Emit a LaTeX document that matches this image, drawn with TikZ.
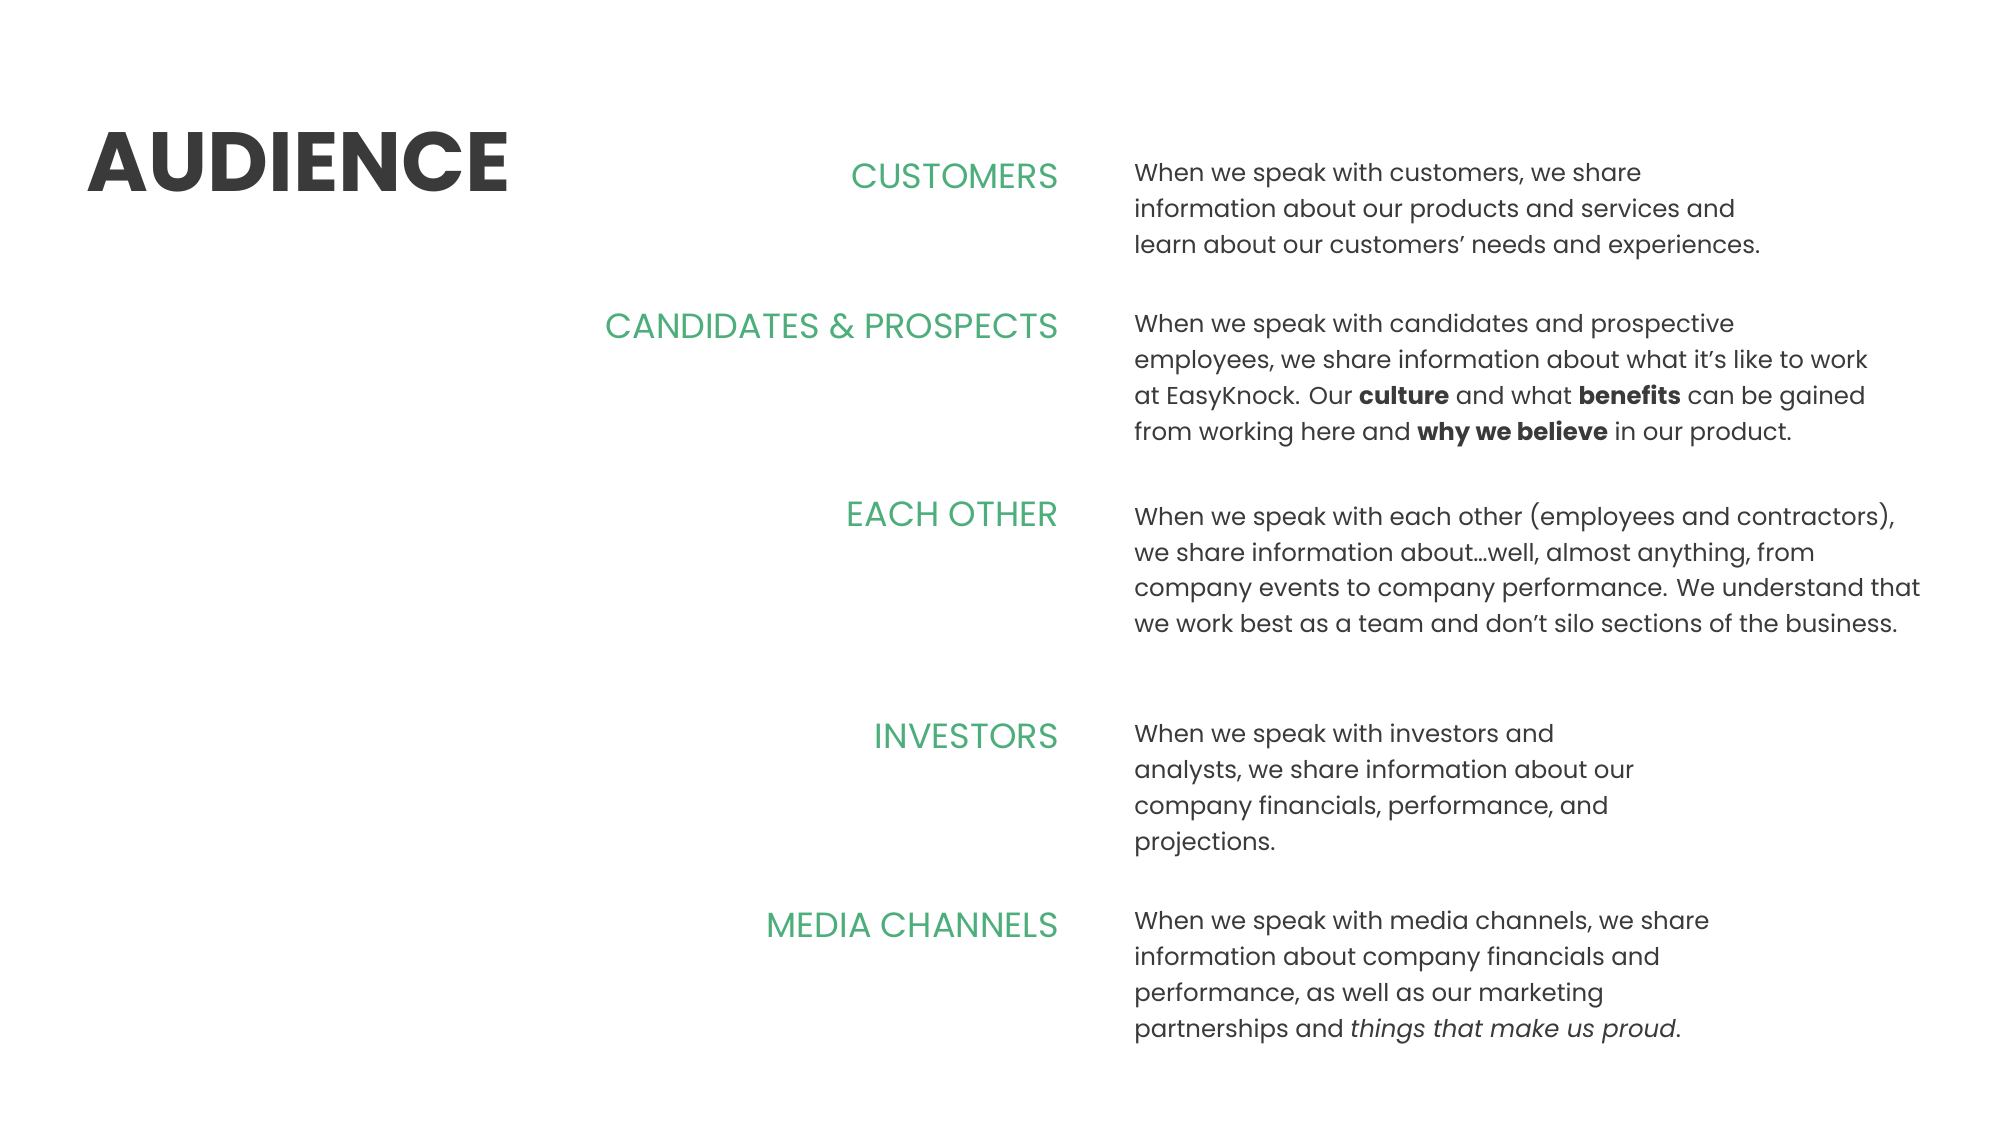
\documentclass[tikz,border=0pt]{standalone}
\usepackage{fontspec}
\setmainfont{Poppins}
\definecolor{grn}{HTML}{4DAE7C}
\definecolor{dk}{HTML}{3A3A3A}
\begin{document}
\begin{tikzpicture}[x=0.5pt,y=-0.5pt,
  lab/.style={anchor=base east,inner sep=0,text=grn,font=\fontsize{17.5}{20}\selectfont},
  body/.style={anchor=north west,inner sep=0,text=dk,align=left,font=\fontsize{12.2}{17.9}\selectfont}]
\useasboundingbox[fill=white] (0,0) rectangle (2000,1125);
\node[anchor=base west,inner sep=0,text=dk,font=\fontsize{42}{48}\selectfont\bfseries] (title) at (86,191) {AUDIENCE};
\node[lab] (l1) at (1059,188) {CUSTOMERS};
\node[lab] (l2) at (1059,338) {CANDIDATES \& PROSPECTS};
\node[lab] (l3) at (1059,526) {EACH OTHER};
\node[lab] (l4) at (1059,748) {INVESTORS};
\node[lab] (l5) at (1059,937) {MEDIA CHANNELS};
\node[body] (b1) at (1134,163) {When we speak with customers, we share\\information about our products and services and\\learn about our customers’ needs and experiences.};
\node[body] (b2) at (1134,314) {When we speak with candidates and prospective\\employees, we share information about what it’s like to work\\at EasyKnock. Our \textbf{culture} and what \textbf{benefits} can be gained\\from working here and \textbf{why we believe} in our product.};
\node[body] (b3) at (1134,502) {When we speak with each other (employees and contractors),\\we share information about…well, almost anything, from\\company events to company performance. We understand that\\we work best as a team and don’t silo sections of the business.};
\node[body] (b4) at (1134,724) {When we speak with investors and\\analysts, we share information about our\\company financials, performance, and\\projections.};
\node[body] (b5) at (1134,911) {When we speak with media channels, we share\\information about company financials and\\performance, as well as our marketing\\partnerships and \textit{things that make us proud}.};
\end{tikzpicture}
\end{document}
